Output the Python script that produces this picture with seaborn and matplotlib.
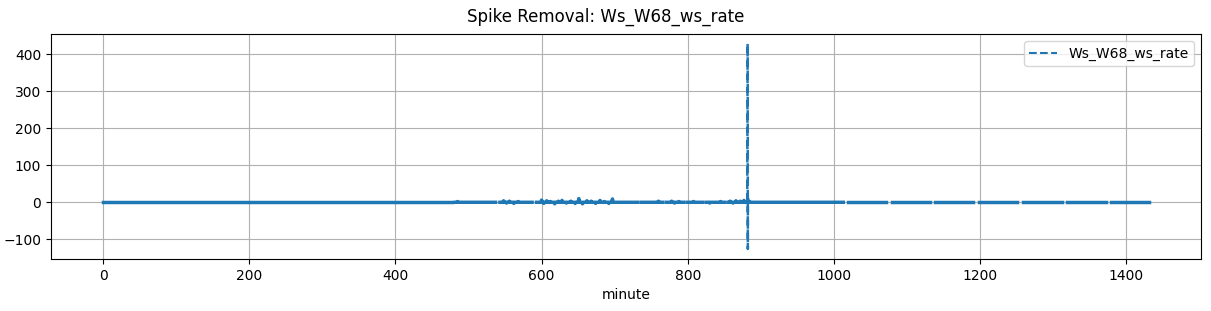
import numpy as np
import pandas as pd
import matplotlib
matplotlib.use("Agg")
import matplotlib.pyplot as plt
import seaborn as sns
from matplotlib.lines import Line2D

# ---- data ----
series_name = "Ws_W68_ws_rate"
minute_start = 0
minute_end = 1431

# missing-data intervals (minutes)
gap_starts = [478, 538, 588, 733, 767, 796, 822, 851, 1014, 1073, 1132, 1192, 1252, 1313, 1373]
gap_ends   = [481, 542, 592, 736, 770, 799, 825, 854, 1019, 1079, 1138, 1198, 1258, 1318, 1378]

# small deviations from 0 in the noisy part of the day
bump_minutes = [485, 548, 552, 556, 562, 568, 600, 603, 607, 612, 618, 623, 628, 634,
                640, 646, 651, 656, 662, 668, 674, 680, 686, 692, 697, 760, 778, 782,
                788, 808, 830, 845, 858, 862, 866, 872, 877, 884]
bump_values  = [2, 4, -2, 3, -3, 2, 6, -3, 4, 2, -4, 3, 5, -2,
                3, -3, 10, -4, 4, 3, -3, 5, 2, -3, 9, 3, 3, -2,
                2, 2, -2, 2, 3, -2, 4, 3, 5, 3]

# the spike around minute 882
spike_minutes = [881.5, 882.0, 882.1, 882.2, 882.3, 882.4, 883.0]
spike_values  = [0, 428, 410, 170, -126, 12, 0]

# ---- assemble table ----
minutes = np.arange(minute_start, minute_end + 1)
values = pd.Series(0.0, index=minutes)
for m, v in zip(bump_minutes, bump_values):
    values[m] = v
missing = np.zeros(len(minutes), dtype=bool)
for s, e in zip(gap_starts, gap_ends):
    missing |= (minutes >= s) & (minutes <= e)
seg = np.cumsum(np.r_[True, missing[1:] != missing[:-1]])
flat = pd.DataFrame({"minute": minutes, "value": values.values, "segment": seg})
flat = flat[~missing]

spike = pd.DataFrame({"minute": spike_minutes, "value": spike_values})

# ---- plot ----
color = "#1f77b4"
fig, ax = plt.subplots(figsize=(12.11, 3.11), dpi=100)
fig.subplots_adjust(left=0.0421, right=0.9917, top=0.8907, bottom=0.1672)

sns.lineplot(data=flat, x="minute", y="value", units="segment", estimator=None,
             color=color, linewidth=2.5, ax=ax, legend=False)
sns.lineplot(data=spike, x="minute", y="value", estimator=None, sort=False,
             color=color, linewidth=1.8, linestyle="--", ax=ax, legend=False)

ax.grid(True, color="#b0b0b0", linewidth=0.8)
ax.set_axisbelow(True)
ax.set_xlabel("minute")
ax.set_ylabel("")
ax.set_xlim(-71.5, 1502.5)
ax.set_ylim(-153, 454)
ax.set_yticks([-100, 0, 100, 200, 300, 400])
ax.legend(handles=[Line2D([0], [0], color=color, linestyle="--", linewidth=1.5)],
          labels=[series_name], loc="upper right")
fig.suptitle("Spike Removal: " + series_name, fontsize=12, y=0.975)

fig.savefig("out.png", dpi=100)
